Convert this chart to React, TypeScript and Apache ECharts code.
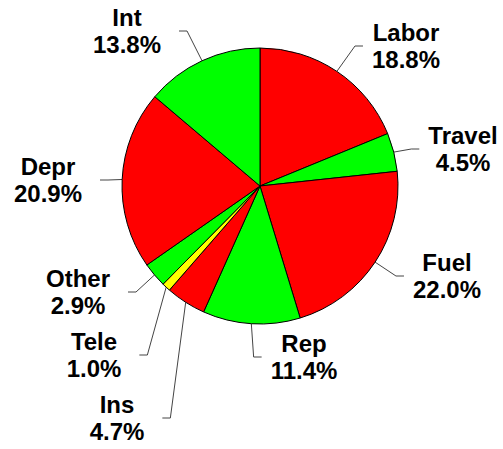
import React, { useEffect, useRef } from 'react';
import * as echarts from 'echarts';

// Data
const categories = ['Labor', 'Travel', 'Fuel', 'Rep', 'Ins', 'Tele', 'Other', 'Depr', 'Int'];
const shares = [18.8, 4.5, 22.0, 11.4, 4.7, 1.0, 2.9, 20.9, 13.8];
const sliceColors = ['#FF0000', '#00FF00', '#FF0000', '#00FF00', '#FF0000', '#FFFF00', '#00FF00', '#FF0000', '#00FF00'];

// Label placement (centre of each label block) and side of the leader line
const labelX = [406, 463, 447, 304, 117, 94, 78, 48, 127];
const labelY = [46, 149, 276, 357, 418, 355, 292, 180, 31];
const labelSide = ['right', 'right', 'right', 'right', 'left', 'left', 'left', 'left', 'left'];

const CENTER: [number, number] = [260, 186];
const RADIUS = 138;

export default function App() {
  const ref = useRef<HTMLDivElement>(null);

  useEffect(() => {
    document.body.style.margin = '0';
    if (!ref.current) return;
    const chart = echarts.init(ref.current, null, { renderer: 'svg' });

    const total = shares.reduce((a, b) => a + b, 0);
    const cum: number[] = [];
    let acc = 0;
    shares.forEach((v) => {
      cum.push(acc + v / 2);
      acc += v;
    });

    chart.setOption({
      animation: false,
      backgroundColor: '#ffffff',
      series: [
        {
          type: 'pie',
          center: CENTER,
          radius: RADIUS,
          startAngle: 90,
          clockwise: true,
          avoidLabelOverlap: false,
          silent: true,
          data: categories.map((name, i) => ({
            name,
            value: shares[i],
            itemStyle: { color: sliceColors[i] },
          })),
          itemStyle: { borderColor: '#000000', borderWidth: 1 },
          label: {
            show: true,
            position: 'outside',
            overflow: 'none',
            formatter: (p: any) => `${p.name}\n${Number(p.value).toFixed(1)}%`,
            color: '#000000',
            fontWeight: 'bold',
            fontSize: 24,
            lineHeight: 27,
            fontFamily: '"Liberation Sans", Arial, sans-serif',
            align: 'center',
          },
          labelLine: {
            show: true,
            smooth: false,
            length: 10,
            length2: 10,
            lineStyle: { color: '#444444', width: 1 },
          },
          labelLayout: (params: any) => {
            const i = params.dataIndex;
            const w = params.labelRect.width;
            const cx = labelX[i];
            const cy = labelY[i];
            const right = labelSide[i] === 'right';
            const endX = right ? cx - w / 2 - 9 : cx + w / 2 + 18;
            const elbowX = right ? endX - 8 : endX + 8;
            const ang = (cum[i] / total) * Math.PI * 2;
            const start = [CENTER[0] + RADIUS * Math.sin(ang), CENTER[1] - RADIUS * Math.cos(ang)];
            return {
              x: cx,
              y: cy,
              align: 'center',
              verticalAlign: 'middle',
              labelLinePoints: [start, [elbowX, cy], [endX, cy]],
            };
          },
          emphasis: { disabled: true },
        },
      ],
    });

    return () => chart.dispose();
  }, []);

  return <div ref={ref} style={{ width: 503, height: 449 }} />;
}
